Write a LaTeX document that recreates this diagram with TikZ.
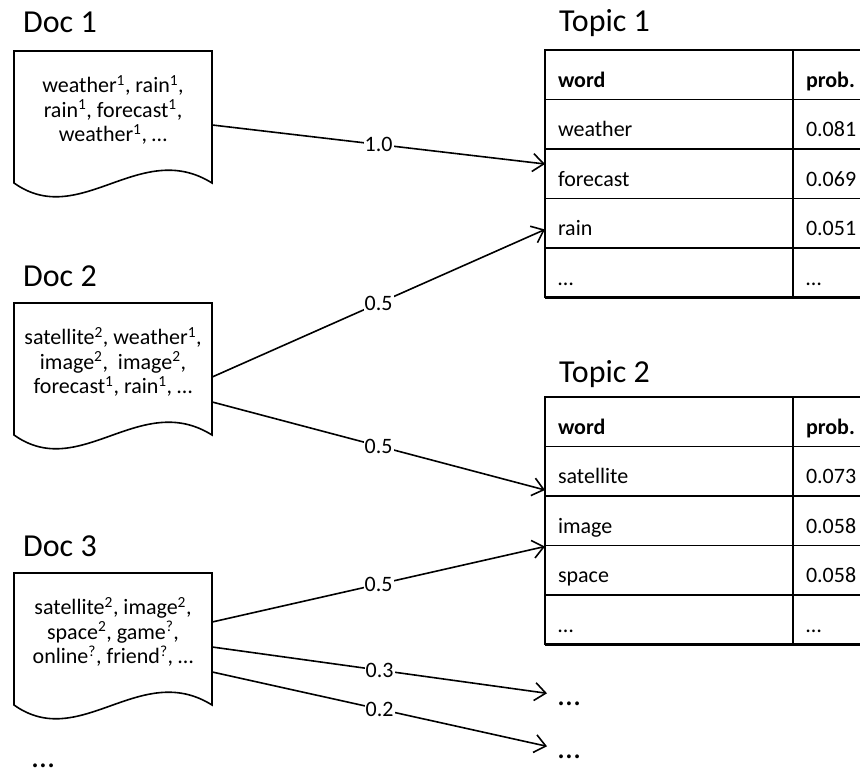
\documentclass[tikz,border=0pt]{standalone}
\usepackage{fontspec}
\setmainfont{Carlito}
\usepackage{tikz}
\usetikzlibrary{arrows.meta,positioning,calc}
\newcommand{\bodyfont}{\fontsize{22}{24.5}\selectfont}
\newcommand{\titlefont}{\fontsize{32}{36}\selectfont}
\newcommand{\sups}[1]{\textsuperscript{#1}}

\begin{document}
\begin{tikzpicture}[x=1pt,y=-1pt,node distance=0pt,
  doctext/.style={align=center,font=\bodyfont,minimum width=198pt,inner sep=0pt},
  docline/.style={line width=1.6pt,line join=miter},
  title/.style={anchor=base west,font=\titlefont,inner sep=0pt},
  cell/.style={draw,line width=1.6pt,outer sep=0pt,minimum height=49.5pt,inner xsep=13pt,inner ysep=0pt,
    text height=25pt,text depth=0pt,align=left},
  wcell/.style={cell,text width=222pt},
  pcell/.style={cell,text width=84pt},
  link/.style={line width=1.6pt,-{Straight Barb[length=11pt,width=18pt]}},
  weight/.style={fill=white,inner sep=1pt,font=\bodyfont}]
\useasboundingbox (0,0) rectangle (860,778);
\fill[white] (0,0) rectangle (860,778);
\clip (0,0) rectangle (860,778);

\node[title] (doc1t) at (23,33) {Doc 1};
\node[doctext] (doc1) at (113,110) {weather\sups{1}, rain\sups{1},\\rain\sups{1}, forecast\sups{1},\\weather\sups{1}, …};
\node[title] (doc2t) at (23,287) {Doc 2};
\node[doctext] (doc2) at (113,362) {satellite\sups{2}, weather\sups{1},\\image\sups{2},\ \ image\sups{2},\\forecast\sups{1}, rain\sups{1}, …};
\node[title] (doc3t) at (23,556) {Doc 3};
\node[doctext] (doc3) at (113,632) {satellite\sups{2}, image\sups{2},\\space\sups{2}, game\sups{?},\\online\sups{?}, friend\sups{?}, …};
\node[title] (docmore) at (32,767) {…};

\foreach \d in {doc1,doc2,doc3}
  \draw[docline] ($(\d.center)+(99,73)$)
    .. controls ($(\d.center)+(27,28)$) and ($(\d.center)+(-33,120)$) .. ($(\d.center)+(-99,73)$)
    -- ($(\d.center)+(-99,-59)$) -- ($(\d.center)+(99,-59)$) -- cycle;

\node[title] (top1t) at (559,32) {Topic 1};
\node[wcell,anchor=north west,font=\bodyfont\bfseries] (t1w0) at (545,50) {word};
\node[pcell,right=of t1w0,font=\bodyfont\bfseries] (t1p0) {prob.};
\foreach \i/\w/\p [remember=\i as \j (initially 0)] in {1/weather/0.081,2/forecast/0.069,3/rain/0.051,4/…/…} {
  \node[wcell,below=of t1w\j,font=\bodyfont] (t1w\i) {\w};
  \node[pcell,right=of t1w\i,font=\bodyfont] (t1p\i) {\p};
}
\draw[line width=2.6pt] (t1w4.south west) -- (t1p4.south east);

\node[title] (top2t) at (559,382) {Topic 2};
\node[wcell,anchor=north west,font=\bodyfont\bfseries] (t2w0) at (545,397) {word};
\node[pcell,right=of t2w0,font=\bodyfont\bfseries] (t2p0) {prob.};
\foreach \i/\w/\p [remember=\i as \j (initially 0)] in {1/satellite/0.073,2/image/0.058,3/space/0.058,4/…/…} {
  \node[wcell,below=of t2w\j,font=\bodyfont] (t2w\i) {\w};
  \node[pcell,right=of t2w\i,font=\bodyfont] (t2p\i) {\p};
}
\draw[line width=2.6pt] (t2w4.south west) -- (t2p4.south east);

\node[title] (more1) at (558,705) {…};
\node[title] (more2) at (558,758) {…};

\draw[link] ($(doc1.east)+(0,15)$) -- node[weight] {1.0} ($(t1w2.north west)+(0,15)$);
\draw[link] ($(doc2.east)+(0,15)$) -- node[weight] {0.5} ($(t1w3.north west)+(0,31)$);
\draw[link] ($(doc2.east)+(0,40)$) -- node[weight] {0.5} ($(t2w1.south west)+(0,-6)$);
\draw[link] ($(doc3.east)+(0,-10)$) -- node[weight] {0.5} ($(t2w3.north west)+(0,1)$);
\draw[link] ($(doc3.east)+(0,15)$) -- node[weight] {0.3} ($(more1.west)+(-11,-10)$);
\draw[link] ($(doc3.east)+(0,40)$) -- node[weight] {0.2} ($(more2.west)+(-11,-10)$);
\end{tikzpicture}
\end{document}
